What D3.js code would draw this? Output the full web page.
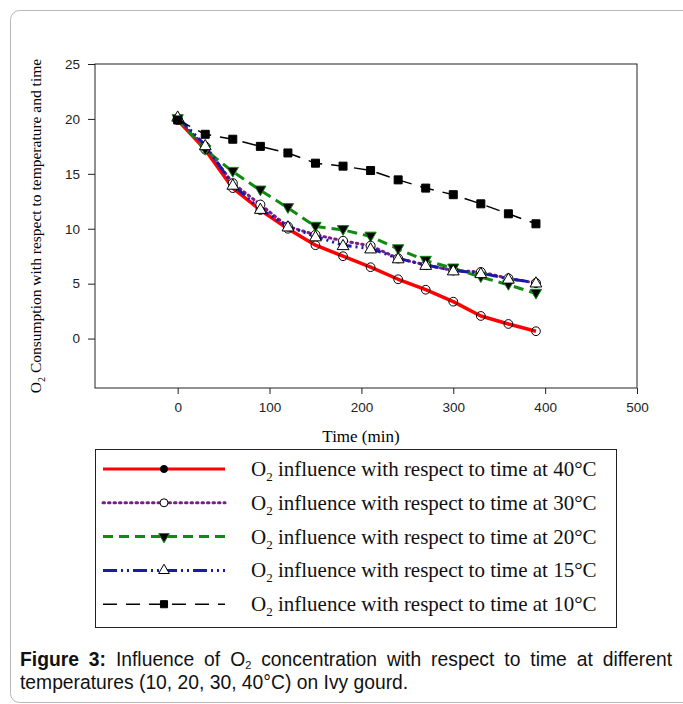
<!DOCTYPE html>
<html>
<head>
<meta charset="utf-8">
<script src="https://cdn.jsdelivr.net/npm/d3@7"></script>
<style>
  body { margin: 0; background: #fff; }
  #wrap { position: relative; width: 683px; height: 704px; overflow: hidden; }
  .caption { position: absolute; left: 20px; width: 652px; font-family: "Liberation Sans", Arial, sans-serif;
             font-size: 19.3px; color: #111; line-height: 22px; white-space: nowrap; }
  .caption sub { font-size: 11px; line-height: 0; vertical-align: -3px; }
</style>
</head>
<body>
<div id="wrap"></div>
<script>
// minutes
const times = [0, 30, 60, 90, 120, 150, 180, 210, 240, 270, 300, 330, 360, 390];
// O2 consumption per temperature
const at40 = [19.9, 17.2, 13.7, 11.7, 10.0, 8.5, 7.5, 6.5, 5.4, 4.45, 3.36, 2.06, 1.33, 0.67];
const at30 = [20.0, 17.5, 14.15, 12.2, 10.2, 9.45, 8.9, 8.45, 7.3, 6.7, 6.2, 6.06, 5.48, 5.06];
const at20 = [20.0, 17.2, 15.2, 13.5, 11.9, 10.2, 9.9, 9.3, 8.15, 7.1, 6.4, 5.6, 4.9, 4.1];
const at15 = [20.2, 17.6, 14.0, 11.8, 10.2, 9.3, 8.5, 8.2, 7.3, 6.7, 6.2, 5.95, 5.45, 5.1];
const at10 = [19.9, 18.6, 18.15, 17.5, 16.9, 15.97, 15.7, 15.3, 14.45, 13.7, 13.1, 12.27, 11.36, 10.45];

const xTicks = [0, 100, 200, 300, 400, 500];
const yTicks = [0, 5, 10, 15, 20, 25];
const tempLabels = ["40°C", "30°C", "20°C", "15°C", "10°C"];

const styles = {
    "40°C": { color: "#ff0000", width: 3.5, dash: null, symbol: d3.symbolCircle, fill: "none", lfill: "#000", rot: 0, size: 60 },
    "30°C": { color: "#7a1c8c", width: 3, dash: "1.5,4", cap: "round", symbol: d3.symbolCircle, fill: "#fff", lfill: "#fff", rot: 0, size: 64 },
    "20°C": { color: "#128a12", width: 3, dash: "10,6", symbol: d3.symbolTriangle, fill: "#000", lfill: "#000", rot: 180, size: 55 },
    "15°C": { color: "#1a1aa6", width: 3, dash: "14,4,2,4,2,4", symbol: d3.symbolTriangle, fill: "#fff", lfill: "#fff", rot: 0, size: 60 },
    "10°C": { color: "#000", width: 1.5, dash: "14,9", symbol: d3.symbolSquare, fill: "#000", lfill: "#000", rot: 0, size: 64 }
};

const seriesData = {
    "40°C": at40, "30°C": at30, "20°C": at20, "15°C": at15, "10°C": at10
};

const W = 683, H = 704;
const plot = { left: 95, right: 637, top: 64, bottom: 388 };

const wrap = d3.select("#wrap");
const svg = wrap.append("svg").attr("width", W).attr("height", H);

// outer panel
svg.append("rect")
    .attr("x", 10.5).attr("y", 10.5)
    .attr("width", 690).attr("height", 692)
    .attr("rx", 9)
    .attr("fill", "none").attr("stroke", "#b8b8b8");

const x = d3.scaleLinear().domain([-90, 500]).range([plot.left, plot.right]);
const y = d3.scaleLinear().domain([-4.5, 25]).range([plot.bottom, plot.top]);

// frame
svg.append("rect")
    .attr("x", plot.left).attr("y", plot.top)
    .attr("width", plot.right - plot.left).attr("height", plot.bottom - plot.top)
    .attr("fill", "none").attr("stroke", "#222").attr("stroke-width", 1);

const xAxis = svg.append("g")
    .attr("transform", `translate(0,${plot.bottom})`)
    .call(d3.axisBottom(x).tickValues(xTicks).tickSize(6).tickSizeOuter(0).tickPadding(8));
const yAxis = svg.append("g")
    .attr("transform", `translate(${plot.left},0)`)
    .call(d3.axisLeft(y).tickValues(yTicks).tickSize(7).tickSizeOuter(0).tickPadding(8));

[xAxis, yAxis].forEach(a => {
    a.select(".domain").remove();
    a.selectAll("line").attr("stroke", "#222");
    a.selectAll("text").attr("font-family", "'Liberation Sans', Arial, sans-serif")
        .attr("font-size", 13.5).attr("fill", "#222");
});

// axis titles
svg.append("text")
    .attr("x", 361).attr("y", 442)
    .attr("text-anchor", "middle")
    .attr("font-family", "'Liberation Serif', 'Times New Roman', serif")
    .attr("font-size", 17)
    .text("Time (min)");

const yl = svg.append("text")
    .attr("transform", "translate(41,226) rotate(-90)")
    .attr("text-anchor", "middle")
    .attr("font-family", "'Liberation Serif', 'Times New Roman', serif")
    .attr("font-size", 15.5);
yl.append("tspan").text("O");
yl.append("tspan").attr("dy", 4).attr("font-size", 10).text("2");
yl.append("tspan").attr("dy", -4).text(" Consumption with respect to temperature and time");

// series
const line = d3.line().x((d, i) => x(times[i])).y(d => y(d));
const drawOrder = ["40°C", "30°C", "20°C", "15°C", "10°C"];

drawOrder.forEach(k => {
    const s = styles[k];
    svg.append("path")
        .datum(seriesData[k])
        .attr("d", line)
        .attr("fill", "none")
        .attr("stroke", s.color)
        .attr("stroke-width", s.width)
        .attr("stroke-linecap", s.cap || "butt")
        .attr("stroke-linejoin", "round")
        .attr("stroke-dasharray", s.dash);
});

drawOrder.forEach(k => {
    const s = styles[k];
    const sym = d3.symbol().type(s.symbol).size(s.size);
    svg.append("g").selectAll("path")
        .data(seriesData[k])
        .join("path")
        .attr("d", sym)
        .attr("transform", (d, i) => `translate(${x(times[i])},${y(d) + (s.symbol === d3.symbolTriangle ? (s.rot ? -1 : 1) : 0)}) rotate(${s.rot})`)
        .attr("fill", s.fill)
        .attr("stroke", k === "20°C" ? s.color : "#000")
        .attr("stroke-width", 1);
});

// legend
const leg = { x: 95, y: 449, w: 521, h: 178, rowY: 469, rowStep: 33.8 };
svg.append("rect")
    .attr("x", leg.x + 0.5).attr("y", leg.y + 0.5)
    .attr("width", leg.w).attr("height", leg.h)
    .attr("fill", "#fff").attr("stroke", "#222");

const rows = svg.append("g").selectAll("g")
    .data(tempLabels)
    .join("g")
    .attr("transform", (d, i) => `translate(0,${leg.rowY + i * leg.rowStep})`);

rows.append("line")
    .attr("x1", 103).attr("x2", 225)
    .attr("stroke", d => styles[d].color)
    .attr("stroke-width", d => styles[d].width === 3.5 ? 3 : styles[d].width)
    .attr("stroke-linecap", d => styles[d].cap || "butt")
    .attr("stroke-dasharray", d => styles[d].dash);

rows.append("path")
    .attr("d", d => d3.symbol().type(styles[d].symbol).size(d === "40°C" ? 40 : 50)())
    .attr("transform", d => `translate(164,0) rotate(${styles[d].rot})`)
    .attr("fill", d => styles[d].lfill)
    .attr("stroke", d => d === "20°C" ? styles[d].color : "#000")
    .attr("stroke-width", 1);

const lt = rows.append("text")
    .attr("x", 251).attr("y", 7)
    .attr("font-family", "'Liberation Serif', 'Times New Roman', serif")
    .attr("font-size", 21)
    .attr("fill", "#111");
lt.append("tspan").text("O");
lt.append("tspan").attr("dy", 5).attr("font-size", 13).text("2");
lt.append("tspan").attr("dy", -5).text(d => ` influence with respect to time at ${d}`);

// caption
wrap.append("div").attr("class", "caption")
    .style("top", "649px")
    .style("text-align-last", "justify").style("text-align", "justify").style("white-space", "normal")
    .html("<b>Figure 3:</b> Influence of O<sub>2</sub> concentration with respect to time at different");
wrap.append("div").attr("class", "caption")
    .style("top", "672px")
    .text("temperatures (10, 20, 30, 40°C) on Ivy gourd.");
</script>
</body>
</html>
